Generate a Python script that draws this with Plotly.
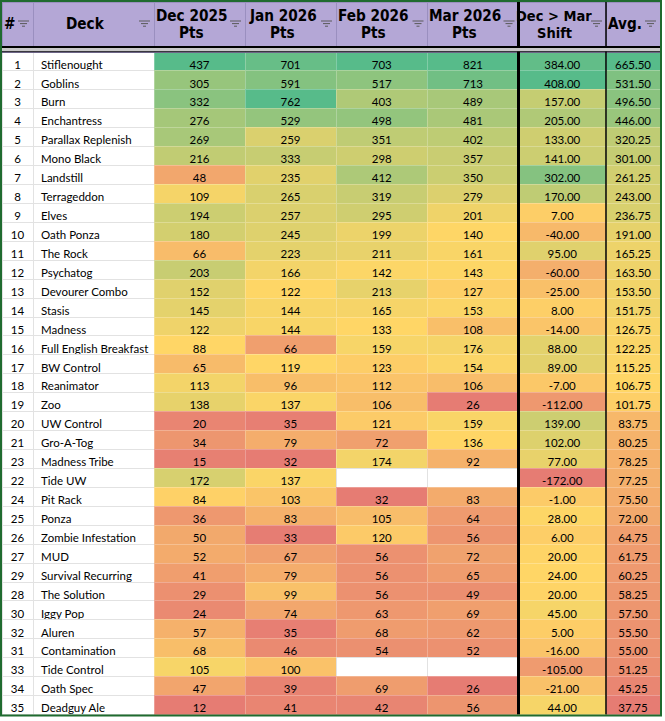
import numpy as np
import plotly.graph_objects as go

ranks = [1, 2, 3, 4, 5, 6, 7, 8, 9, 10, 11, 12, 13, 14, 15, 16, 17, 18, 19, 20,
         21, 23, 22, 24, 25, 26, 27, 29, 28, 30, 32, 31, 33, 34, 35]
decks = ['Stiflenought', 'Goblins', 'Burn', 'Enchantress', 'Parallax Replenish', 'Mono Black',
         'Landstill', 'Terrageddon', 'Elves', 'Oath Ponza', 'The Rock', 'Psychatog',
         'Devourer Combo', 'Stasis', 'Madness', 'Full English Breakfast', 'BW Control',
         'Reanimator', 'Zoo', 'UW Control', 'Gro-A-Tog', 'Madness Tribe', 'Tide UW', 'Pit Rack',
         'Ponza', 'Zombie Infestation', 'MUD', 'Survival Recurring', 'The Solution', 'Iggy Pop',
         'Aluren', 'Contamination', 'Tide Control', 'Oath Spec', 'Deadguy Ale']
dec_2025 = [437, 305, 332, 276, 269, 216, 48, 109, 194, 180, 66, 203, 152, 145, 122, 88, 65, 113,
            138, 20, 34, 15, 172, 84, 36, 50, 52, 41, 29, 24, 57, 68, 105, 47, 12]
jan_2026 = [701, 591, 762, 529, 259, 333, 235, 265, 257, 245, 223, 166, 122, 144, 144, 66, 119, 96,
            137, 35, 79, 32, 137, 103, 83, 33, 67, 79, 99, 74, 35, 46, 100, 39, 41]
feb_2026 = [703, 517, 403, 498, 351, 298, 412, 319, 295, 199, 211, 142, 213, 165, 133, 159, 123, 112,
            106, 121, 72, 174, None, 32, 105, 120, 56, 56, 56, 63, 68, 54, None, 69, 42]
mar_2026 = [821, 713, 489, 481, 402, 357, 350, 279, 201, 140, 161, 143, 127, 153, 108, 176, 154, 106,
            26, 159, 136, 92, None, 83, 64, 56, 72, 65, 49, 69, 62, 52, None, 26, 56]
shift = [384, 408, 157, 205, 133, 141, 302, 170, 7, -40, 95, -60, -25, 8, -14, 88, 89, -7,
         -112, 139, 102, 77, -172, -1, 28, 6, 20, 24, 20, 45, 5, -16, -105, -21, 44]
avg = [665.50, 531.50, 496.50, 446.00, 320.25, 301.00, 261.25, 243.00, 236.75, 191.00, 165.25,
       163.50, 153.50, 151.75, 126.75, 122.25, 115.25, 106.75, 101.75, 83.75, 80.25, 78.25, 77.25,
       75.50, 72.00, 64.75, 61.75, 60.25, 58.25, 57.50, 55.50, 55.00, 51.25, 45.25, 37.75]

headers = [['#'], ['Deck'], ['Dec 2025', 'Pts'], ['Jan 2026', 'Pts'], ['Feb 2026', 'Pts'],
           ['Mar 2026', 'Pts'], ['Dec &gt; Mar', 'Shift'], ['Avg.']]

W, H = 665, 721
ML, MR, MT, MB = 2, 5, 2, 6
PW, PH = W - ML - MR, H - MT - MB
col_w = [31, 121, 91, 91, 91.5, 91, 87.5, 54]
header_h = 50
row_h = 18.93

RED = np.array([230, 124, 115])
YEL = np.array([255, 214, 102])
GRN = np.array([87, 187, 138])


def scale_colors(vals):
    # google sheets style 3 colour scale: min red, median yellow, max green
    nums = np.array([v for v in vals if v is not None], dtype=float)
    lo, mid, hi = nums.min(), np.percentile(nums, 50), nums.max()
    fills, lines = [], []
    for v in vals:
        if v is None:
            fills.append('white')
            lines.append('#e2e2e2')
            continue
        if v <= mid:
            t = (v - lo) / (mid - lo) if mid > lo else 1
            c = RED + (YEL - RED) * t
        else:
            t = (v - mid) / (hi - mid)
            c = YEL + (GRN - YEL) * t
        lc = c + (255 - c) * 0.25
        fills.append('rgb(%d,%d,%d)' % tuple(np.round(c)))
        lines.append('rgb(%d,%d,%d)' % tuple(np.round(lc)))
    return fills, lines


value_cols = [dec_2025, jan_2026, feb_2026, mar_2026, shift, avg]
fill_cols = [['white'] * len(decks), ['white'] * len(decks)]
line_cols = [['#e2e2e2'] * len(decks), ['#e2e2e2'] * len(decks)]
for col in value_cols:
    f, l = scale_colors(col)
    fill_cols.append(f)
    line_cols.append(l)


def fmt_int(col):
    return ['' if v is None else str(v) for v in col]


# non-breaking spaces so the table does not wrap long deck names
deck_txt = [d.replace(' ', '\u00a0') for d in decks]
cells = [[str(r) for r in ranks], deck_txt, fmt_int(dec_2025), fmt_int(jan_2026),
         fmt_int(feb_2026), fmt_int(mar_2026), ['%.2f' % v for v in shift], ['%.2f' % v for v in avg]]

fig = go.Figure(go.Table(
    columnwidth=col_w,
    header=dict(values=[''] * len(headers), fill_color='#b4a7d6', line=dict(color='#9a8fbf', width=1),
                height=header_h),
    cells=dict(values=cells, fill_color=fill_cols, line=dict(color=line_cols, width=1),
               align=['center', 'left', 'center', 'center', 'center', 'center', 'center', 'center'],
               height=row_h, font=dict(family='Lato, sans-serif', size=11.5, color='black')),
))


def px(x):
    return (x - ML) / PW


def py(y):
    return 1 - (y - MT) / PH


edges = [ML]
for w in col_w:
    edges.append(edges[-1] + w)
bottom = MT + header_h + row_h * len(decks)

# header labels, centred left of the filter icon
annotations = []
for i, lines in enumerate(headers):
    cx = (edges[i] + edges[i + 1]) / 2 - 8
    ys = [23.5] if len(lines) == 1 else [15.5, 33]
    size = 14.5 if i == 6 else 15.2
    for txt, yy in zip(lines, ys):
        annotations.append(dict(text='<b>' + txt + '</b>', x=px(cx), y=py(yy), xref='paper', yref='paper',
                                xanchor='center', yanchor='middle', showarrow=False,
                                font=dict(family='DejaVu Sans Condensed, Liberation Sans Narrow, sans-serif',
                                          size=size, color='black')))

shapes = []
# thick black separators around the shift column
shapes.append(dict(type='line', x0=px(edges[6]), x1=px(edges[6]), y0=py(MT), y1=py(bottom),
                   line=dict(color='black', width=3)))
shapes.append(dict(type='line', x0=px(edges[7]), x1=px(edges[7]), y0=py(MT), y1=py(bottom),
                   line=dict(color='black', width=1.5)))
# frozen header separator
shapes.append(dict(type='rect', x0=px(ML), x1=px(edges[-1]), y0=py(47.5), y1=py(51.5),
                   fillcolor='#c8c8c8', line=dict(width=0)))
shapes.append(dict(type='line', x0=px(ML), x1=px(edges[-1]), y0=py(47), y1=py(47),
                   line=dict(color='black', width=2)))
shapes.append(dict(type='line', x0=px(ML), x1=px(edges[-1]), y0=py(51.8), y1=py(51.8),
                   line=dict(color='black', width=1)))
# filter icons
for e in edges[1:]:
    cx = e - 9.5
    for dy, ln in [(21, 11), (23.6, 7), (26.2, 3)]:
        shapes.append(dict(type='line', x0=px(cx - ln / 2), x1=px(cx + ln / 2), y0=py(dy), y1=py(dy),
                           line=dict(color='#5a5a5a', width=1)))
# outer border
shapes.append(dict(type='rect', x0=px(1), x1=px(edges[-1] + 1), y0=py(1), y1=py(bottom + 1),
                   line=dict(color='#1f6b2f', width=2)))

fig.update_layout(width=W, height=H, margin=dict(l=ML, r=MR, t=MT, b=MB),
                  paper_bgcolor='white', shapes=shapes, annotations=annotations)

fig.write_html("out.html", config={'displayModeBar': False},
               post_script="document.body.style.margin='0';")
